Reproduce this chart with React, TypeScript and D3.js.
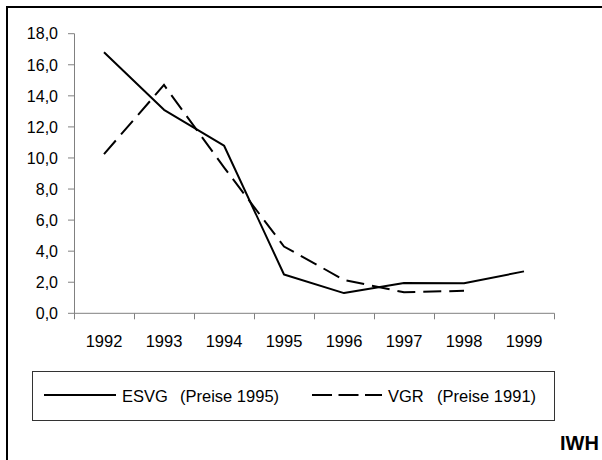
import React, { useEffect, useRef } from 'react'
import * as d3 from 'd3'

const years = ['1992', '1993', '1994', '1995', '1996', '1997', '1998', '1999']
const esvg = [16.8, 13.1, 10.8, 2.5, 1.3, 1.95, 1.93, 2.7]
const vgr = [10.25, 14.7, 9.4, 4.3, 2.15, 1.35, 1.45]
const yTicks = [0, 2, 4, 6, 8, 10, 12, 14, 16, 18]

const W = 602
const H = 460

const Chart: React.FC = () => {
  const ref = useRef<SVGSVGElement>(null)

  useEffect(() => {
    if (!ref.current) return
    const svg = d3.select(ref.current)
    svg.selectAll('*').remove()

    const font = '"Liberation Sans", Arial, sans-serif'
    const x = d3.scaleBand<string>().domain(years).range([74, 554])
    const y = d3.scaleLinear().domain([0, 18]).range([313.3, 33.7])
    const cx = (d: string) => (x(d) || 0) + x.bandwidth() / 2

    // outer frame (left + top only)
    svg.append('line').attr('x1', 7).attr('x2', 7).attr('y1', 6).attr('y2', H)
      .attr('stroke', '#000').attr('stroke-width', 2)
    svg.append('line').attr('x1', 6).attr('x2', W).attr('y1', 7).attr('y2', 7)
      .attr('stroke', '#000').attr('stroke-width', 2)

    const axisColor = '#808080'

    // y axis
    svg.append('line').attr('x1', 74.5).attr('x2', 74.5)
      .attr('y1', y(18)).attr('y2', y(0))
      .attr('stroke', axisColor)
    yTicks.forEach(t => {
      svg.append('line').attr('x1', 68).attr('x2', 74.5)
        .attr('y1', y(t)).attr('y2', y(t)).attr('stroke', axisColor)
      svg.append('text').attr('x', 58).attr('y', y(t)).attr('dy', '0.36em')
        .attr('text-anchor', 'end').attr('font-family', font).attr('font-size', 16)
        .attr('fill', '#000')
        .text(d3.format('.1f')(t).replace('.', ','))
    })

    // x axis
    svg.append('line').attr('x1', 74).attr('x2', 554.5)
      .attr('y1', y(0)).attr('y2', y(0)).attr('stroke', axisColor)
    const bounds = years.map(d => x(d) || 0).concat([554])
    bounds.forEach(b => {
      svg.append('line').attr('x1', b + 0.5).attr('x2', b + 0.5)
        .attr('y1', y(0)).attr('y2', y(0) + 6).attr('stroke', axisColor)
    })
    years.forEach(d => {
      svg.append('text').attr('x', cx(d)).attr('y', 347)
        .attr('text-anchor', 'middle').attr('font-family', font).attr('font-size', 16.5)
        .attr('fill', '#000').text(d)
    })

    const line = d3.line<number>()
      .x((_, i) => cx(years[i]))
      .y(d => y(d))

    svg.append('path').attr('d', line(esvg)).attr('fill', 'none')
      .attr('stroke', '#000').attr('stroke-width', 2).attr('stroke-linejoin', 'round')
    svg.append('path').attr('d', line(vgr)).attr('fill', 'none')
      .attr('stroke', '#000').attr('stroke-width', 2).attr('stroke-dasharray', '18,8')

    // legend
    const lg = svg.append('g')
    lg.append('rect').attr('x', 32.5).attr('y', 371.5).attr('width', 522).attr('height', 49)
      .attr('fill', '#fff').attr('stroke', '#333').attr('stroke-width', 1)
    lg.append('line').attr('x1', 44).attr('x2', 116).attr('y1', 395).attr('y2', 395)
      .attr('stroke', '#000').attr('stroke-width', 2)
    lg.append('line').attr('x1', 312).attr('x2', 382).attr('y1', 395).attr('y2', 395)
      .attr('stroke', '#000').attr('stroke-width', 2).attr('stroke-dasharray', '20,6.5')
    const legendText = (x0: number, x1: number, name: string, sub: string) => {
      const t = lg.append('text').attr('y', 402).attr('font-family', font)
        .attr('font-size', 16.5).attr('fill', '#000')
      t.append('tspan').attr('x', x0).text(name)
      t.append('tspan').attr('x', x1).text(sub)
    }
    legendText(122, 180, 'ESVG', '(Preise 1995)')
    legendText(388, 437, 'VGR', '(Preise 1991)')

    svg.append('text').attr('x', 560).attr('y', 450).attr('font-family', font)
      .attr('font-size', 20).attr('font-weight', 'bold').attr('fill', '#000').text('IWH')
  }, [])

  return (
    <svg ref={ref} width={W} height={H}
      style={{ position: 'absolute', left: 0, top: 0, background: '#fff' }} />
  )
}

export default function App() {
  return <Chart />
}
